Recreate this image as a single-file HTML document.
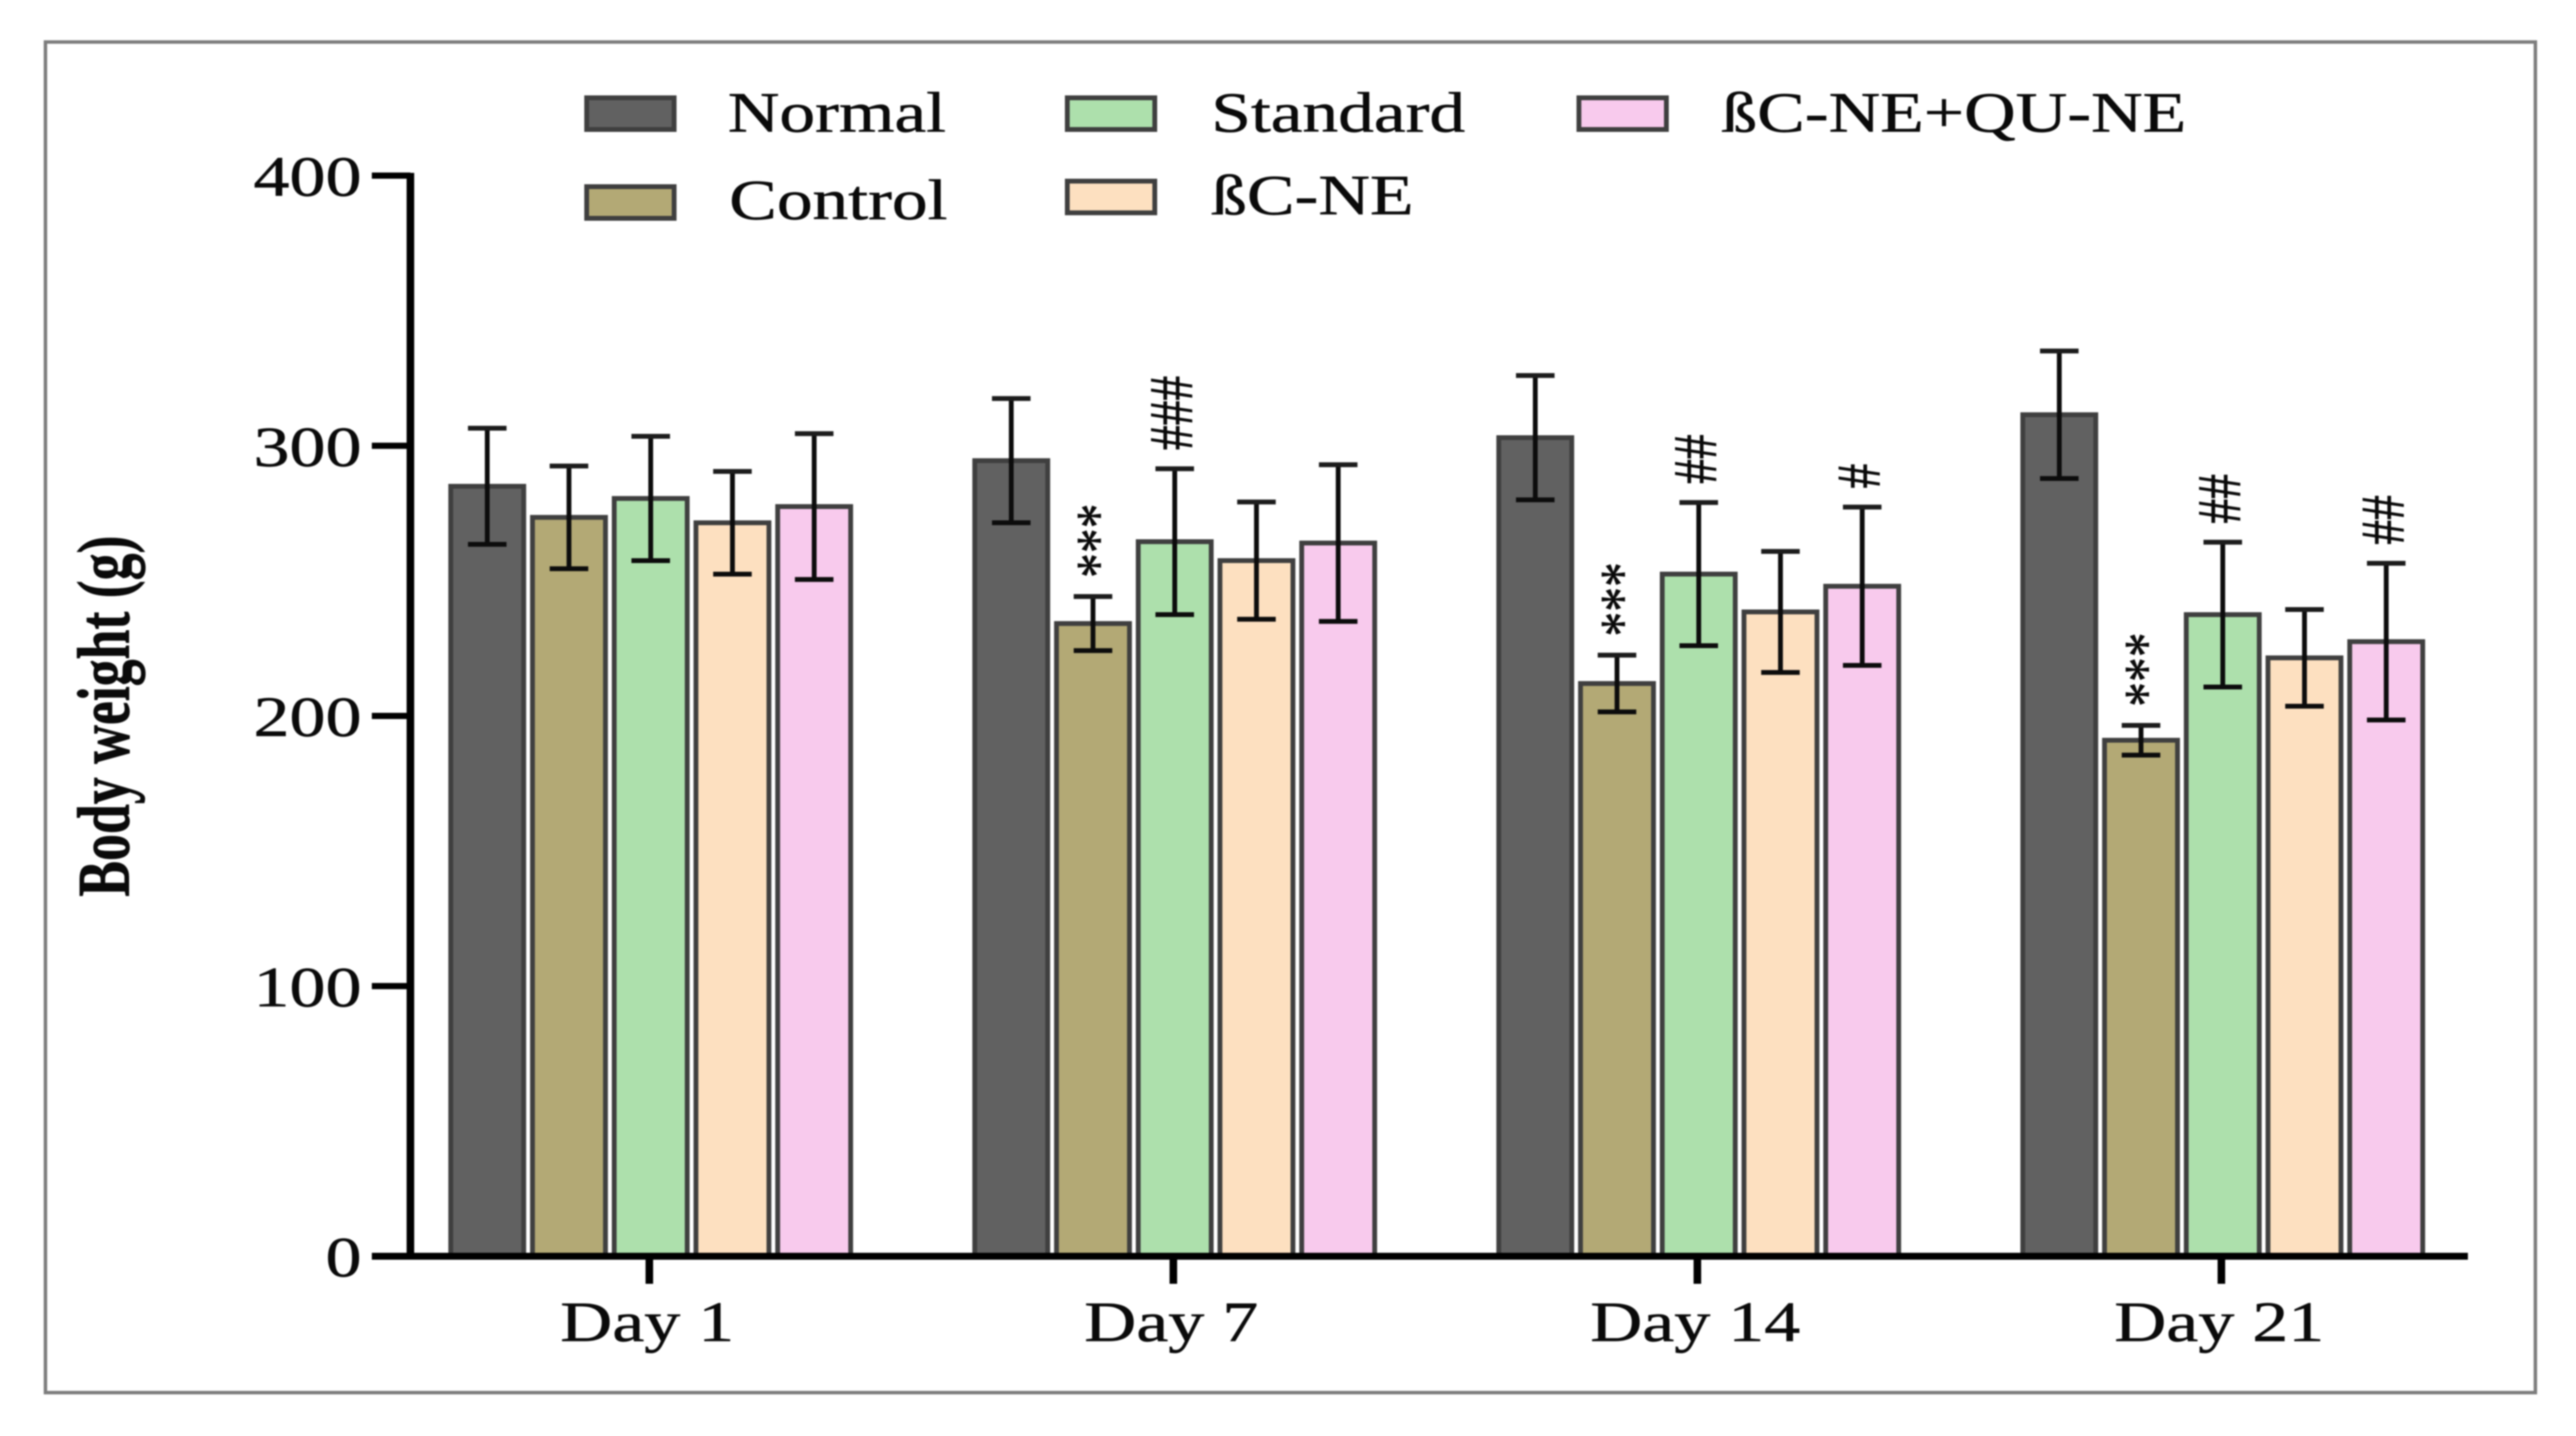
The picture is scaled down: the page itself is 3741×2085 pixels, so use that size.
<!DOCTYPE html>
<html lang="en">
<head>
<meta charset="utf-8">
<title>Body weight chart</title>
<style>
html,body{margin:0;padding:0;background:#fff;width:3741px;height:2085px;overflow:hidden}
svg{display:block;filter:blur(1px)}
text{font-family:"Liberation Serif",serif;fill:#0a0a0a;stroke:#0a0a0a;stroke-width:0.7px}
</style>
</head>
<body>
<svg id="chart" xmlns="http://www.w3.org/2000/svg" width="3741" height="2085" viewBox="0 0 3741 2085">
<rect x="0" y="0" width="3741" height="2085" fill="#ffffff"/>
<rect x="66" y="61" width="3616" height="1961" fill="none" stroke="#7d7d7d" stroke-width="5"/>
</svg>
<script>
const categories = ['Day 1', 'Day 7', 'Day 14', 'Day 21'];
const seriesNames = ['Normal', 'Control', 'Standard', 'ßC-NE', 'ßC-NE+QU-NE'];
const yTicks = [0, 100, 200, 300, 400];
const normalValues = [285, 294.5, 303, 311.5];
const controlValues = [273.5, 234.2, 212, 191];
const standardValues = [280.5, 264.5, 252.5, 237.5];
const bcneValues = [271.5, 257.5, 238.5, 221.5];
const bcnequValues = [277.5, 264, 248, 227.5];
const normalErrors = [21.5, 23, 23, 23.6];
const controlErrors = [19, 10, 10.5, 5.5];
const standardErrors = [23, 27, 26.5, 26.8];
const bcneErrors = [19, 21.7, 22.4, 17.9];
const bcnequErrors = [27, 29, 29.3, 29];
const marksDay7 = ['', '***', '###', '', ''];
const marksDay14 = ['', '***', '##', '', '#'];
const marksDay21 = ['', '***', '##', '', '##'];
const marksDay1 = ['', '', '', '', ''];

const seriesValues = [normalValues, controlValues, standardValues, bcneValues, bcnequValues];
const seriesErrors = [normalErrors, controlErrors, standardErrors, bcneErrors, bcnequErrors];
const seriesMarks = [marksDay1, marksDay7, marksDay14, marksDay21];
const fills = ['#616161', '#b3a975', '#ade0ac', '#fde0c0', '#f8caed'];

const svg = document.getElementById('chart');
const NS = 'http://www.w3.org/2000/svg';
const yScale = v => 1824 - v * 3.9225;
const xGroup = i => 945 + i * 761;
const xBar = (i, j) => xGroup(i) + (j - 2) * 118.7;
const BAR_W = 106;
const CAP = 56;

function make(tag, attrs, parent) {
  const el = document.createElementNS(NS, tag);
  for (const k in attrs) el.setAttribute(k, attrs[k]);
  (parent || svg).appendChild(el);
  return el;
}

// Bars and error bars
categories.forEach((cat, i) => {
  seriesNames.forEach((name, j) => {
    const v = seriesValues[j][i];
    const e = seriesErrors[j][i];
    const cx = xBar(i, j);
    const bar = make('rect', {x: cx - BAR_W / 2, y: yScale(v), width: BAR_W, height: yScale(0) - yScale(v), fill: fills[j], stroke: '#3f3f3f', 'stroke-width': 7});
    
    
    const stem = make('line', {x1: cx, x2: cx, y1: yScale(v + e), y2: yScale(v - e), stroke: '#0c0c0c', 'stroke-width': 7});
    
    
    const capTop = make('line', {x1: cx - CAP / 2, x2: cx + CAP / 2, y1: yScale(v + e), y2: yScale(v + e), stroke: '#1c1c1c', 'stroke-width': 7});
    
    
    const capLow = make('line', {x1: cx - CAP / 2, x2: cx + CAP / 2, y1: yScale(v - e), y2: yScale(v - e), stroke: '#0c0c0c', 'stroke-width': 7});
    
    
    const mark = seriesMarks[i][j];
    if (mark) {
      const isStar = mark[0] === '*';
      const mx = cx - 5 + (isStar ? 42 : 30);
      const my = yScale(v + e) - 27;
      const t = make('text', {transform: 'translate(' + mx + ',' + my + ') rotate(-90) scale(1,1.25)', 'font-size': 72});
      t.textContent = mark;
      
      
    }
  });
});

// Y axis
const yAxis = make('line', {x1: 596, x2: 596, y1: yScale(400) - 4, y2: yScale(0), stroke: '#000', 'stroke-width': 11});


yTicks.forEach(t => {
  const y = yScale(t);
  const tick = make('line', {x1: 540, x2: 596, y1: y, y2: y, stroke: '#000', 'stroke-width': 9});
  
  
  const lab = make('text', {transform: 'translate(525,' + (y + 29) + ') scale(1.26,1)', 'font-size': 83, 'text-anchor': 'end'});
  lab.textContent = String(t);
  
  
});

// X axis
const xAxis = make('line', {x1: 540, x2: 3584, y1: yScale(0), y2: yScale(0), stroke: '#000', 'stroke-width': 10});


categories.forEach((cat, i) => {
  const x = xGroup(i) - 2;
  const tick = make('line', {x1: x, x2: x, y1: 1824, y2: 1864, stroke: '#000', 'stroke-width': 11});
  
  
  const lab = make('text', {transform: 'translate(' + (x - 3) + ',1947) scale(1.26,1)', 'font-size': 83, 'text-anchor': 'middle'});
  lab.textContent = cat;
  
  
});

// Y axis title
const yTitle = make('text', {transform: 'translate(187,1302) rotate(-90) scale(1,1.39)', 'font-size': 78, 'font-weight': 'bold'});
yTitle.textContent = 'Body weight (g)';



// Legend
const legendSwatchX = [849, 849, 1547, 1547, 2290];
const legendSwatchY = [139, 268, 139, 260, 139];
const legendTextX = [1057, 1059, 1759, 1759, 2500];
const legendBase = [191, 318, 191, 311, 191];
const legendOrder = [0, 1, 2, 3, 4];
legendOrder.forEach(j => {
  const sw = make('rect', {x: legendSwatchX[j] + 3, y: legendSwatchY[j] + 3, width: 127, height: 46, fill: fills[j], stroke: '#3f3f3f', 'stroke-width': 7});
  
  
  const lab = make('text', {transform: 'translate(' + legendTextX[j] + ',' + legendBase[j] + ') scale(1.25,1)', 'font-size': 83});
  lab.textContent = seriesNames[j];
  
  
});
</script>
</body>
</html>
